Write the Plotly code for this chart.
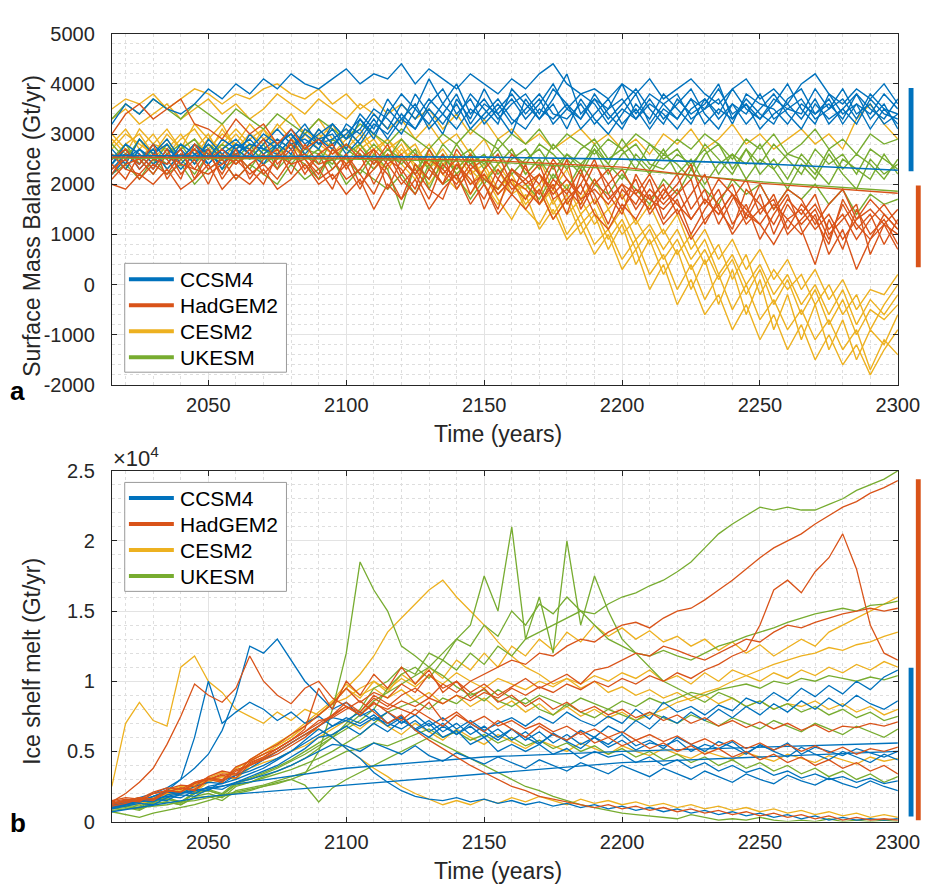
import plotly.graph_objects as go

# ---------------- data ----------------
YEARS = list(range(2015, 2301, 5))           # 58 points
SMOOTH_YEARS_A = [2015, 2100, 2150, 2200, 2250, 2300]
SMOOTH_YEARS_B = [2015, 2050, 2100, 2150, 2200, 2250, 2300]

MODELS = ["CCSM4", "HadGEM2", "CESM2", "UKESM"]
X_TICKS = [2050, 2100, 2150, 2200, 2250, 2300]
Y_TICKS_A = [-2000, -1000, 0, 1000, 2000, 3000, 4000, 5000]
Y_TICKTEXT_A = ["-2000", "-1000", "0", "1000", "2000", "3000", "4000", "5000"]
Y_TICKS_B = [0, 5000, 10000, 15000, 20000, 25000]
Y_TICKTEXT_B = ["0", "0.5", "1", "1.5", "2", "2.5"]

# Panel a: surface mass balance, units of 100 Gt/yr, one row per ensemble member
smb_ccsm4 = [
    [32,36,34,37,35,34,36,39,37,40, 38,41,39,42,40,39,41,43,40,42, 41,44,40,43,41,39,42,40,38,41, 39,42,44,40,38,39,37,40,38,41, 37,39,41,38,36,39,41,37,39,36, 40,42,38,36,39,37,40,36],
    [25,26,24,28,25,27,24,29,26,28, 27,30,28,26,31,29,27,32,30,34, 31,36,33,37,34,31,35,33,36,32, 35,38,34,33,36,32,35,37,33,36, 34,31,35,37,33,36,32,35,38,34, 31,36,33,35,32,37,34,33],
    [24,28,26,23,27,25,28,26,24,27, 29,26,28,30,27,31,28,30,33,29, 35,32,38,34,30,37,33,39,34,37, 33,36,40,35,33,38,34,31,36,33, 38,35,32,37,34,39,35,33,36,40, 35,32,38,34,36,31,35,32],
    [27,24,29,26,28,24,27,25,29,27, 25,28,31,28,29,27,32,29,31,35, 33,30,35,41,36,33,38,35,32,39, 36,33,37,42,34,37,33,36,39,35, 32,37,34,36,40,33,37,34,32,37, 39,34,36,33,38,35,33,37],
    [23,26,25,27,23,26,25,28,25,26, 28,27,29,27,30,28,29,31,28,32, 30,34,31,35,32,36,31,34,37,33, 31,35,33,36,31,34,37,32,35,31, 35,33,37,32,35,33,36,31,34,36, 33,37,32,35,38,33,36,31],
    [26,23,27,25,24,28,26,24,27,29, 26,29,27,31,28,30,32,29,34,31, 37,33,31,36,39,34,37,32,35,38, 34,37,32,35,38,36,32,35,33,37, 33,36,39,34,31,36,34,38,33,35, 37,33,35,39,34,36,32,34],
    [24,27,23,26,29,25,28,24,27,25, 30,27,26,29,32,28,31,27,33,30, 34,38,35,32,36,40,34,37,33,36, 38,34,39,36,33,37,35,40,34,38, 36,33,37,35,39,34,36,33,37,35, 34,39,35,37,33,38,35,34],
    [22,25,27,24,26,23,26,27,23,28, 26,24,28,30,26,29,30,26,29,33, 29,33,36,31,34,38,32,36,34,30, 37,33,36,31,37,33,30,34,38,32, 36,38,33,35,37,32,38,36,35,32, 36,34,37,32,36,34,38,35],
]
smb_hadgem2 = [
    [30,34,36,33,35,37,32,31,29,33, 30,32,28,31,27,29,26,28,25,27, 24,26,22,25,23,20,24,21,19,23, 20,22,18,21,17,19,16,20,18,15, 19,16,13,17,14,18,15,12,16,13, 15,11,14,9,13,15,12,10],
    [24,21,26,23,27,22,25,20,26,24, 27,22,25,28,23,26,21,24,19,25, 22,17,24,21,26,19,23,15,21,18, 24,16,20,14,22,18,12,19,16,21, 13,17,10,15,19,12,16,9,14,18, 11,4,13,7,15,10,13,8],
    [22,26,24,28,21,25,27,23,25,21, 24,26,23,29,25,22,27,24,26,20, 25,23,19,27,22,25,18,23,26,20, 17,22,19,25,15,20,23,17,21,14, 18,22,15,19,12,17,21,14,18,11, 16,13,8,17,12,9,14,11],
    [26,23,22,25,24,27,21,26,22,27, 21,25,27,22,28,24,25,21,23,27, 19,25,22,17,24,21,26,20,15,23, 21,18,24,16,20,25,18,14,22,17, 20,14,18,22,15,11,19,16,12,17, 14,18,10,13,16,6,12,15],
    [20,19,22,20,23,19,21,24,19,22, 20,23,19,21,24,20,22,18,21,15, 20,17,21,15,19,22,16,20,14,18, 15,19,13,17,20,14,11,16,13,18, 12,15,9,13,16,10,14,12,8,13, 10,14,6,11,3,9,12,7],
    [25,27,23,26,25,21,28,25,27,24, 26,29,24,27,22,26,28,23,27,24, 28,22,26,24,20,27,23,25,21,26, 23,20,25,21,18,24,20,23,18,22, 17,20,24,16,21,18,14,20,15,19, 17,12,16,19,13,17,14,11],
    [23,25,21,24,22,26,23,22,24,26, 23,20,26,24,25,21,23,26,20,23, 26,21,18,23,20,24,21,17,23,19, 21,24,17,19,16,21,17,20,15,19, 16,19,13,17,14,18,12,15,17,10, 13,16,11,14,9,13,16,12],
    [21,24,25,22,26,24,23,27,21,25, 22,24,21,25,26,23,19,26,22,18, 24,20,23,19,17,24,20,22,18,21, 19,16,21,18,23,16,20,15,19,17, 15,18,21,12,17,20,13,18,10,16, 12,15,9,16,11,14,8,13],
]
smb_cesm2 = [
    [35,37,36,38,35,37,39,38,36,38, 37,39,40,38,37,39,36,38,35,37, 34,36,33,35,31,34,30,33,29,31, 28,30,27,29,31,28,30,27,29,26, 30,28,31,27,29,32,28,30,27,29, 31,28,30,27,33,36,32,29],
    [28,31,27,30,26,29,31,27,30,28, 32,29,31,34,30,33,29,31,28,30, 27,29,25,28,24,26,22,24,19,22, 17,20,14,18,12,15,9,13,7,11, 5,9,3,7,1,5,-2,3,-4,1, -6,-1,-8,-3,-10,-5,-7,-4],
    [26,24,29,25,28,24,27,30,25,28, 26,29,27,25,30,27,25,28,26,23, 27,24,21,25,22,19,23,20,16,21, 15,12,17,10,14,8,11,5,9,2, 6,-1,4,-3,2,-5,0,-7,-3,-9, -5,-11,-7,-13,-9,-17,-11,-14],
    [30,27,25,28,31,27,29,26,28,31, 28,26,29,27,31,28,26,29,31,27, 29,26,28,23,26,22,25,21,23,18, 20,16,19,14,17,12,15,10,13,8, 11,6,10,4,8,1,6,-2,3,-1, 2,-4,0,-6,-2,-9,-4,0],
    [25,28,30,26,29,25,28,26,31,27, 29,31,26,28,25,30,27,24,28,25, 23,27,24,20,24,21,18,22,17,13, 18,11,15,9,12,6,10,3,7,-1, 4,-4,1,-6,-2,-9,-4,-11,-6,-13, -8,-15,-10,-16,-12,-18,-13,-9],
    [33,35,32,34,36,33,35,37,34,36, 33,35,38,36,34,37,35,33,36,34, 31,33,29,32,28,30,26,29,24,27, 22,25,19,23,17,21,15,18,12,16, 10,14,7,11,5,9,3,7,1,5, -1,3,-3,1,-5,-1,-2,2],
    [27,30,28,26,30,27,32,29,27,30, 27,31,28,30,27,29,32,27,30,26, 29,25,27,24,27,23,26,21,24,20, 19,22,16,20,14,17,11,15,9,12, 7,11,5,9,2,6,0,4,-2,2, -4,0,-6,-1,-8,-3,-6,-2],
    [29,26,31,28,27,30,26,29,32,27, 30,28,32,29,27,31,28,30,27,29, 25,28,23,26,22,25,20,23,18,21, 16,19,13,17,10,14,7,12,4,9, 2,7,-1,5,-4,3,-6,1,-9,-2, -11,-4,-13,-7,-15,-9,-12,-6],
]
smb_ukesm = [
    [33,36,34,37,35,33,36,34,32,35, 33,31,34,32,30,33,31,29,32,30, 28,31,29,27,30,28,31,29,27,30, 28,31,27,30,28,26,29,27,30,28, 26,29,27,30,28,25,29,27,30,26, 28,31,27,29,26,30,28,29],
    [26,23,27,24,28,25,22,26,24,27, 25,28,23,26,24,21,27,25,22,26, 23,15,24,21,26,22,25,20,24,27, 22,25,21,26,23,28,24,21,26,23, 27,22,25,20,24,26,21,25,23,19, 24,21,26,22,19,25,22,24],
    [24,27,25,22,26,28,24,27,23,25, 28,24,26,29,25,27,23,26,28,24, 27,25,22,27,23,28,24,26,22,25, 27,23,28,25,22,27,24,29,25,22, 26,24,21,26,28,23,27,22,25,21, 26,23,20,25,23,21,26,22],
    [28,25,29,26,24,27,29,25,28,26, 23,27,25,28,26,24,29,27,25,28, 25,29,26,23,28,25,27,23,29,26, 24,28,26,23,27,29,25,27,23,28, 25,27,23,28,25,22,27,24,28,25, 22,27,24,26,22,27,25,23],
    [22,24,21,25,22,24,20,23,25,21, 24,22,20,24,21,23,25,20,23,21, 19,22,18,24,20,22,17,21,19,23, 20,17,22,19,24,20,18,22,19,16, 21,18,23,19,16,21,18,20,15,19, 17,20,16,19,14,18,16,17],
    [25,28,24,27,23,26,25,28,26,24, 27,25,28,24,27,26,24,28,26,23, 26,24,27,19,25,23,26,24,27,22, 25,27,23,26,24,27,22,26,28,24, 23,26,24,27,22,26,24,28,23,26, 25,22,27,23,26,24,21,25],
]
smb_smooth_ccsm4 = [25.7, 25.6, 25.4, 25.0, 24.1, 22.8]
smb_smooth_hadgem2 = [25.4, 25.2, 24.8, 23.4, 20.2, 18.2]
smb_smooth_ukesm = [25.2, 25.0, 24.5, 23.0, 20.5, 18.6]

# Panel b: ice shelf melt, units of 100 Gt/yr
melt_ccsm4 = [
    [12,14,17,20,24,30,38,48,65,90, 125,120,130,115,100,90,80,85,75,80, 70,75,65,70,60,65,55,60,50,55, 50,55,48,52,45,50,46,48,42,46, 40,44,38,42,36,40,35,38,33,36, 31,34,30,32,28,31,27,29],
    [10,12,15,18,22,30,60,100,70,78, 85,80,72,78,70,75,68,74,70,76, 68,74,66,72,64,70,62,68,60,66, 58,64,56,62,55,60,53,58,51,56, 54,58,50,55,52,57,49,54,51,56, 48,53,50,47,52,49,46,50],
    [13,15,14,18,21,20,25,28,27,33, 36,40,45,50,56,62,68,72,78,72, 78,70,76,68,74,66,72,65,70,74, 68,75,70,78,72,68,75,70,80,73, 85,78,82,76,83,79,88,84,92,86, 95,89,97,91,100,94,103,108],
    [11,13,15,14,19,21,20,25,27,30, 34,38,44,50,58,66,60,52,45,35, 28,22,18,16,15,17,14,16,13,15, 12,14,11,13,10,12,9,11,8,10, 7,9,6,8,5,7,4,6,3,5, 2,4,1,3,1,2,1,2],
    [9,11,13,12,17,19,18,23,25,28, 32,36,40,46,52,60,62,68,62,70, 64,72,66,60,68,62,70,64,58,66, 60,55,63,57,52,60,55,62,54,58, 52,60,55,50,57,53,48,55,50,46, 53,48,44,50,46,42,48,44],
    [12,13,15,16,18,17,22,24,23,28, 30,33,36,40,45,50,55,54,50,56, 52,48,54,47,43,49,45,41,46,42, 38,44,40,36,42,38,34,40,36,32, 38,34,30,36,32,28,34,30,27,33, 29,26,31,27,24,29,25,22],
    [10,12,14,16,15,20,23,22,29,33, 38,44,50,56,62,68,74,72,68,74, 70,66,72,64,70,62,68,60,66,58, 64,56,62,58,65,60,68,63,72,66, 75,70,78,72,80,74,82,76,84,78, 86,80,88,82,90,84,80,86],
]
melt_smooth_ccsm4 = [
    [7, 18, 26, 34, 42, 46, 50],
    [10, 24, 38, 46, 50, 53, 56],
]
melt_hadgem2 = [
    [14,16,15,20,22,21,27,30,28,36, 40,45,50,56,62,68,75,82,78,88, 82,90,95,88,98,92,100,105,110,115, 112,120,118,125,130,128,135,140,142,138, 145,150,152,158,165,172,180,188,195,200, 205,212,218,224,228,234,238,243],
    [13,15,17,16,21,24,23,30,33,31, 41,46,52,58,64,70,76,82,76,84, 80,86,82,88,84,90,86,92,88,95, 90,96,92,98,94,100,96,102,98,104, 100,106,102,108,112,118,122,140,165,172, 163,178,188,205,180,140,120,115],
    [12,14,17,16,23,26,25,32,36,34, 44,50,55,62,68,76,84,95,85,92, 88,98,92,105,95,100,92,98,90,96, 102,95,100,105,98,108,110,115,120,118, 125,122,118,115,120,125,130,128,135,140, 138,142,145,148,150,152,150,152],
    [15,17,16,21,24,23,28,31,30,37, 40,44,48,54,60,68,76,85,78,90, 84,80,76,85,72,78,70,75,68,72, 66,70,64,68,62,66,60,64,58,62, 57,61,55,59,54,58,52,56,51,55, 50,54,49,53,48,52,50,53],
    [11,13,16,15,21,24,22,30,34,33, 42,46,52,58,66,95,80,100,90,105, 95,110,98,108,92,100,88,95,85,90, 82,88,80,85,78,82,76,80,74,78, 72,76,70,74,68,72,67,71,66,70, 65,69,64,68,67,70,68,71],
    [13,15,14,20,22,21,28,31,29,39, 43,48,52,58,64,72,74,80,86,78, 70,76,65,58,52,46,40,35,30,25, 22,18,16,14,12,10,12,9,11,8, 10,7,9,6,8,5,7,4,6,3, 5,2,4,1,3,1,2,1],
    [14,20,28,38,55,75,98,90,85,95, 118,100,90,84,95,100,88,82,76,85, 78,72,80,74,68,76,70,64,72,66, 60,68,62,58,64,56,60,54,58,52, 56,50,54,48,52,46,50,44,48,42, 46,40,44,38,42,36,40,34],
]
melt_cesm2 = [
    [25,70,85,72,68,110,118,100,92,80, 75,70,78,72,80,76,84,95,88,100, 92,105,98,110,102,115,108,120,110,125, 118,130,122,135,128,140,132,138,130,136, 128,132,125,130,122,128,120,126,118,124, 130,125,135,140,145,150,155,160],
    [12,14,13,18,21,20,27,30,28,38, 43,48,54,60,68,76,85,95,105,118, 135,145,155,165,172,160,150,140,128,118, 110,105,98,102,95,100,92,96,90,94, 88,92,86,90,84,88,82,86,80,84, 82,86,80,84,78,82,76,80],
    [13,15,17,16,22,25,24,31,35,33, 44,50,56,62,70,78,86,98,90,95, 88,94,86,92,84,90,82,88,80,86, 78,84,76,82,75,80,74,78,72,76, 80,85,88,92,95,100,104,108,112,115, 118,120,124,122,126,128,132,135],
    [10,12,14,13,19,22,21,28,32,30, 40,45,50,56,62,66,60,52,45,38, 32,25,20,16,12,15,12,16,13,17, 14,18,15,12,16,13,15,12,14,11, 13,10,12,9,11,8,10,7,9,6, 8,5,7,4,6,3,5,3],
    [12,14,16,15,20,23,22,29,32,31, 38,42,45,50,54,60,66,72,66,74, 68,62,70,64,58,66,60,55,62,57, 52,58,54,50,56,52,48,54,50,47, 52,48,45,50,47,44,49,46,43,48, 45,42,47,44,41,46,43,45],
    [11,13,12,17,20,19,26,30,29,38, 43,48,54,60,68,76,84,88,95,100, 94,102,96,104,98,106,100,95,102,98, 94,100,96,102,98,104,100,106,102,108, 100,104,98,106,100,108,104,100,106,102, 108,104,110,106,112,108,114,110],
]
melt_ukesm = [
    [10,11,9,14,16,13,20,22,19,27, 30,34,38,43,48,54,60,66,72,80, 95,105,110,102,115,108,120,112,125,118, 130,135,140,145,150,148,155,160,163,168, 172,178,185,195,205,212,218,224,222,224, 222,222,226,230,236,240,244,250],
    [8,9,10,11,12,14,15,17,19,21, 23,25,27,30,34,50,80,120,185,165, 150,125,118,110,104,96,90,94,86,82, 88,80,76,84,78,74,80,76,72,78, 74,70,76,72,68,74,70,66,72,68, 64,70,66,62,68,64,60,66],
    [9,10,8,13,14,12,18,20,17,25, 28,32,36,40,45,52,60,70,80,95, 100,110,105,120,115,130,140,175,150,210, 130,160,120,200,140,175,150,130,120,110, 100,95,90,85,92,88,82,86,80,84, 78,82,76,80,74,78,72,75],
    [11,12,10,15,17,14,21,23,20,28, 31,35,39,44,50,56,62,68,76,86, 92,98,104,110,120,130,125,140,132,150, 140,155,148,160,150,140,130,125,120,118, 122,118,115,120,125,128,132,135,138,142, 145,148,150,152,150,154,155,157],
    [7,5,3,6,8,10,12,15,18,20, 22,25,28,30,26,14,24,30,35,40, 45,50,55,60,55,50,45,40,35,30, 25,22,18,15,12,10,8,6,5,4, 3,2,5,3,1,2,1,3,1,0, 1,0,2,0,1,0,1,0],
    [12,13,11,15,16,14,20,22,19,26, 28,31,34,37,41,45,50,56,62,70, 78,82,86,80,88,84,92,86,94,88, 84,90,86,82,88,84,80,86,82,88, 84,88,92,90,94,96,98,95,100,98, 102,100,104,102,100,103,101,104],
    [10,11,9,13,14,12,17,18,15,22, 24,26,29,32,35,40,45,50,52,56, 54,58,62,66,60,64,58,62,56,60, 54,58,52,56,50,54,48,52,46,50, 44,48,42,46,40,44,38,42,36,40, 34,38,32,36,30,34,28,32],
]

# Range bars at right side (Gt/yr): [low, high]
bar_a_ccsm4 = [2258, 3917]
bar_a_hadgem2 = [345, 1973]
bar_b_hadgem2 = [90, 24395]
bar_b_ccsm4 = [368, 10960]

UNIT = 100  # stored values are in units of 100 Gt/yr

# ---------------- styling ----------------
COLORS = {"CCSM4": "#0072BD", "HadGEM2": "#D95319", "CESM2": "#EDB120", "UKESM": "#77AC30"}
W, H = 944, 895
FONT = "Liberation Sans, Arial, Helvetica, sans-serif"
AX = "#262626"


def px(x):
    return x / W


def py(y):
    return 1 - y / H


fig = go.Figure()

ens_a = {"CCSM4": smb_ccsm4, "HadGEM2": smb_hadgem2, "CESM2": smb_cesm2, "UKESM": smb_ukesm}
ens_b = {"CCSM4": melt_ccsm4, "HadGEM2": melt_hadgem2, "CESM2": melt_cesm2, "UKESM": melt_ukesm}
DRAW_ORDER = ["CESM2", "UKESM", "CCSM4", "HadGEM2"]


def add_line(x, y, color, xa, ya, width):
    fig.add_trace(go.Scatter(x=x, y=[v * UNIT for v in y], mode="lines",
                             line=dict(color=color, width=width),
                             xaxis=xa, yaxis=ya, showlegend=False, hoverinfo="skip"))


for model in DRAW_ORDER:
    for member in ens_a[model]:
        add_line(YEARS, member, COLORS[model], "x", "y", 1.4)
add_line(SMOOTH_YEARS_A, smb_smooth_ukesm, COLORS["UKESM"], "x", "y", 1.3)
add_line(SMOOTH_YEARS_A, smb_smooth_ccsm4, COLORS["CCSM4"], "x", "y", 1.6)
add_line(SMOOTH_YEARS_A, smb_smooth_hadgem2, COLORS["HadGEM2"], "x", "y", 1.3)

for model in DRAW_ORDER:
    if model == "CCSM4":
        for member in melt_smooth_ccsm4:
            add_line(SMOOTH_YEARS_B, member, COLORS[model], "x2", "y2", 1.3)
    for member in ens_b[model]:
        add_line(YEARS, member, COLORS[model], "x2", "y2", 1.3)

x_dom = [px(114.5), px(919.3)]
common_x = dict(range=[2015, 2300], tickmode="array", tickvals=X_TICKS,
                ticks="inside", ticklen=5, tickcolor=AX, showline=True, linecolor=AX,
                linewidth=1, mirror="ticks", showgrid=True, gridcolor="#e3e3e3",
                zeroline=False, tickfont=dict(family=FONT, size=20, color=AX),
                ticklabelstandoff=2,
                minor=dict(tick0=2000, dtick=10, showgrid=True, gridcolor="#dedede",
                           griddash="dot", ticks=""))
common_y = dict(ticks="inside", ticklen=5, tickcolor=AX, showline=True, linecolor=AX,
                linewidth=1, mirror="ticks", showgrid=True, gridcolor="#e3e3e3",
                zeroline=False, tickfont=dict(family=FONT, size=20, color=AX),
                ticklabelstandoff=12)

fig.update_layout(
    width=W, height=H, margin=dict(l=0, r=0, t=0, b=0),
    paper_bgcolor="white", plot_bgcolor="white", showlegend=False,
    xaxis=dict(domain=x_dom, anchor="y", **common_x),
    yaxis=dict(domain=[py(383.3), py(23.3)], anchor="x", range=[-2000, 5000],
               tickmode="array", tickvals=Y_TICKS_A, ticktext=Y_TICKTEXT_A,
               minor=dict(tick0=0, dtick=200, showgrid=True, gridcolor="#dedede",
                          griddash="dot", ticks=""), **common_y),
    xaxis2=dict(domain=x_dom, anchor="y2", **common_x),
    yaxis2=dict(domain=[py(831), py(471.3)], anchor="x2", range=[0, 25000],
                tickmode="array", tickvals=Y_TICKS_B, ticktext=Y_TICKTEXT_B,
                minor=dict(tick0=0, dtick=1000, showgrid=True, gridcolor="#dedede",
                           griddash="dot", ticks=""), **common_y),
)

shapes = []
annotations = []

# range bars
for (lo, hi), x0, x1, yref, model in [
    (bar_a_ccsm4, 930.3, 935.3, "y", "CCSM4"), (bar_a_hadgem2, 937.7, 942.7, "y", "HadGEM2"),
    (bar_b_hadgem2, 937.7, 942.7, "y2", "HadGEM2"), (bar_b_ccsm4, 930.3, 935.3, "y2", "CCSM4")]:
    shapes.append(dict(type="rect", xref="paper", yref=yref, x0=px(x0), x1=px(x1),
                       y0=lo, y1=hi, fillcolor=COLORS[model], line=dict(width=0)))

# manual legends
for box, rows in [((127.7, 258.7, 293.3, 370.3), [275, 301.7, 328.3, 355]),
                  ((127.7, 483.3, 293.3, 595), [499.3, 526, 552.7, 579.3])]:
    shapes.append(dict(type="rect", xref="paper", yref="paper",
                       x0=px(box[0]), x1=px(box[2]), y0=py(box[3]), y1=py(box[1]),
                       fillcolor="white", line=dict(color="#999999", width=1), layer="above"))
    for model, ry in zip(MODELS, rows):
        shapes.append(dict(type="line", xref="paper", yref="paper",
                           x0=px(132), x1=px(178), y0=py(ry), y1=py(ry),
                           line=dict(color=COLORS[model], width=4), layer="above"))
        annotations.append(dict(text=model, xref="paper", yref="paper", x=px(182),
                                y=py(ry), xanchor="left", yanchor="middle", showarrow=False,
                                font=dict(family=FONT, size=21, color="black")))

# axis titles and labels
titles = [
    dict(text="Surface Mass Balance (Gt/yr)", textangle=-90, x=px(32), y=py(220)),
    dict(text="Time (years)", x=px(510), y=py(434)),
    dict(text="Ice shelf melt (Gt/yr)", textangle=-90, x=px(32), y=py(667)),
    dict(text="Time (years)", x=px(510), y=py(882)),
]
for a in titles:
    a.update(xref="paper", yref="paper", showarrow=False, xanchor="center", yanchor="middle",
             font=dict(family=FONT, size=23, color=AX))
annotations += titles

annotations += [
    dict(text="<b>a</b>", x=px(18), y=py(390), xref="paper", yref="paper",
         xanchor="center", yanchor="middle", showarrow=False,
         font=dict(family=FONT, size=26, color="black")),
    dict(text="<b>b</b>", x=px(18), y=py(832), xref="paper", yref="paper",
         xanchor="center", yanchor="middle", showarrow=False,
         font=dict(family=FONT, size=26, color="black")),
    dict(text="×10<sup>4</sup>", x=px(114), y=py(457), xref="paper", yref="paper",
         xanchor="left", yanchor="middle", showarrow=False,
         font=dict(family=FONT, size=22, color=AX)),
]

fig.update_layout(shapes=shapes, annotations=annotations)
fig.write_html("out.html", config={"displayModeBar": False},
               post_script="document.body.style.margin='0';document.body.style.overflow='hidden';")
